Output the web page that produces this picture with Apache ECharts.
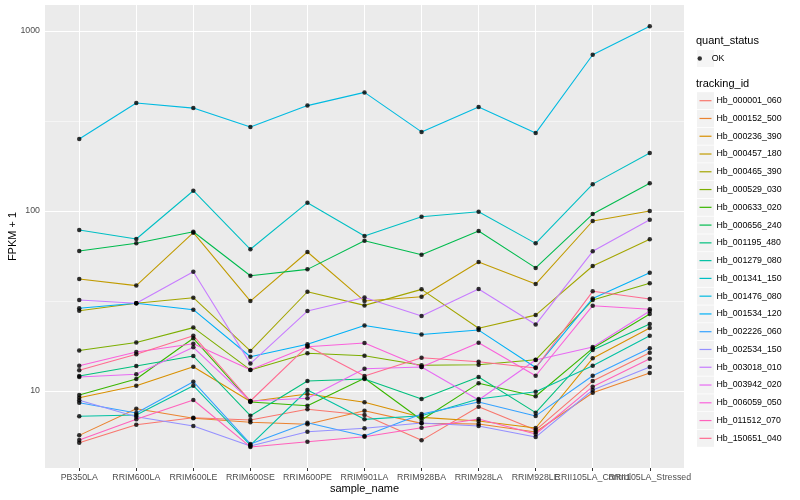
<!DOCTYPE html>
<html><head><meta charset="utf-8">
<script src="https://cdn.jsdelivr.net/npm/echarts@6/dist/echarts.min.js"></script>
<style>html,body{margin:0;padding:0;background:#fff}#c{width:800px;height:500px}</style>
</head><body><div id="c"></div>
<script>
const categories = ['PB350LA','RRIM600LA','RRIM600LE','RRIM600SE','RRIM600PE','RRIM901LA','RRIM928BA','RRIM928LA','RRIM928LE','RRII105LA_Control','RRII105LA_Stressed'];
const trackingIds = ['Hb_000001_060','Hb_000152_500','Hb_000236_390','Hb_000457_180','Hb_000465_390','Hb_000529_030','Hb_000633_020','Hb_000656_240','Hb_001195_480','Hb_001279_080','Hb_001341_150','Hb_001476_080','Hb_001534_120','Hb_002226_060','Hb_002534_150','Hb_003018_010','Hb_003942_020','Hb_006059_050','Hb_011512_070','Hb_150651_040'];
const colors = ['#F8766D','#EA8331','#D89000','#C09B00','#A3A500','#7CAE00','#39B600','#00BB4E','#00BF7D','#00C1A3','#00BFC4','#00BAE0','#00B0F6','#35A2FF','#9590FF','#C77CFF','#E76BF3','#FA62DB','#FF62BC','#FF6C91'];

const hb_000001_060 = [5.16, 6.50, 7.11, 6.90, 7.91, 7.36, 5.32, 8.18, 6.07, 11.36, 16.32];
const hb_000152_500 = [5.67, 7.97, 7.05, 6.70, 6.53, 7.77, 6.61, 6.56, 5.92, 9.78, 12.59];
const hb_000236_390 = [9.18, 10.70, 13.65, 8.74, 9.62, 8.66, 7.14, 6.81, 6.23, 15.19, 22.39];
const hb_000457_180 = [41.9, 38.5, 75.8, 31.6, 59.2, 31.6, 33.4, 52.1, 39.3, 88.0, 100];
const hb_000465_390 = [27.9, 30.7, 33.0, 16.7, 35.6, 29.9, 36.7, 22.3, 26.4, 49.5, 69.6];
const hb_000529_030 = [16.8, 18.6, 22.5, 13.1, 16.2, 15.7, 13.9, 14.0, 14.9, 32.0, 39.7];
const hb_000633_020 = [9.50, 11.66, 19.63, 8.69, 8.29, 11.77, 6.90, 11.03, 9.35, 17.27, 26.78];
const hb_000656_240 = [59.9, 66.2, 76.7, 43.7, 47.4, 68.4, 57.2, 77.4, 48.3, 96.2, 142.5];
const hb_001195_480 = [12.12, 13.76, 15.65, 7.29, 11.36, 11.66, 9.03, 11.96, 7.58, 16.90, 23.56];
const hb_001279_080 = [7.24, 7.36, 10.70, 5.01, 10.13, 6.96, 7.29, 9.03, 9.91, 13.82, 20.29];
const hb_001341_150 = [78.4, 69.9, 129.6, 61.3, 111.2, 72.6, 93.0, 99.1, 66.1, 141, 210];
const hb_001476_080 = [251, 398, 373, 293, 385, 456, 275, 378, 271, 738, 1062];
const hb_001534_120 = [28.8, 30.7, 28.3, 15.5, 18.2, 23.1, 20.6, 21.8, 13.5, 32.7, 45.4];
const hb_002226_060 = [8.61, 7.55, 11.26, 5.08, 6.67, 5.62, 7.45, 8.69, 7.27, 12.16, 17.27];
const hb_002534_150 = [8.88, 7.20, 6.39, 4.95, 5.94, 6.21, 6.64, 6.39, 5.55, 10.13, 13.59];
const hb_003018_010 = [32.0, 30.7, 46.0, 14.2, 27.8, 33.1, 26.1, 36.9, 23.4, 59.7, 89.5];
const hb_003942_020 = [11.96, 12.38, 17.49, 8.80, 9.11, 13.30, 13.59, 8.91, 14.87, 17.56, 27.83];
const hb_006059_050 = [13.82, 16.47, 18.31, 13.13, 17.63, 18.48, 13.59, 18.55, 12.16, 29.78, 28.44];
const hb_011512_070 = [5.34, 6.96, 8.91, 4.89, 5.23, 5.57, 6.25, 6.99, 5.77, 10.57, 15.11];
const hb_150651_040 = [13.03, 15.99, 20.29, 8.80, 17.78, 12.12, 15.31, 14.55, 13.42, 35.80, 32.44];

const seriesValues = [hb_000001_060, hb_000152_500, hb_000236_390, hb_000457_180, hb_000465_390, hb_000529_030, hb_000633_020, hb_000656_240, hb_001195_480, hb_001279_080, hb_001341_150, hb_001476_080, hb_001534_120, hb_002226_060, hb_002534_150, hb_003018_010, hb_003942_020, hb_006059_050, hb_011512_070, hb_150651_040];

const yMajorTicks = [10, 100, 1000];
const yMinorGrid = [31.62, 316.2];
const xTicks = categories.map((c, i) => i);
// labels split over two axes so that the overlapping pair at the right end both show, as in the reference
const xLabelsMain = xTicks.filter(i => i !== 9);
const xLabelsExtra = [9];

const FONT = 'Liberation Sans, Arial, sans-serif';
const chart = echarts.init(document.getElementById('c'), null, {renderer: 'canvas'});

const gridMarks = [];
yMajorTicks.forEach(v => gridMarks.push({yAxis: v, lineStyle: {width: 1.07}}));
yMinorGrid.forEach(v => gridMarks.push({yAxis: v, lineStyle: {width: 0.53}}));
xTicks.forEach(v => gridMarks.push({xAxis: v, lineStyle: {width: 1.07}}));

const lineSeries = trackingIds.map((id, k) => {
  const s = {
    name: id, type: 'line', z: 2, silent: true, animation: false,
    xAxisIndex: 0, yAxisIndex: 0,
    symbol: 'none', showSymbol: false,
    lineStyle: {color: colors[k], width: 1.07},
    itemStyle: {color: colors[k]},
    data: seriesValues[k].map((v, i) => [i, v])
  };
  if (k === 0) {
    s.markLine = {silent: true, z: 1, symbol: ['none', 'none'], label: {show: false}, animation: false,
      lineStyle: {color: '#ffffff', type: 'solid'}, emphasis: {disabled: true}, data: gridMarks};
  }
  return s;
});

const pts = [];
seriesValues.forEach(arr => arr.forEach((v, i) => pts.push([i, v])));

const legendTextBase = {fontFamily: FONT, fontSize: 8.8, lineHeight: 17, color: '#000'};
const xLabelStyle = {color: '#4D4D4D', fontSize: 8.8, fontFamily: FONT, margin: 5, showMinLabel: true, showMaxLabel: true, hideOverlap: false,
  formatter: v => categories[Math.round(v)]};

const option = {
  animation: false,
  backgroundColor: '#ffffff',
  grid: {left: 45, top: 5, width: 639, height: 463, show: true, backgroundColor: '#EBEBEB', borderWidth: 0,
    containLabel: false, outerBoundsMode: 'none'},
  title: [
    {text: 'quant_status', left: 696, top: 34, padding: 0, textStyle: {fontFamily: FONT, fontSize: 11, fontWeight: 'normal', color: '#000', lineHeight: 13}},
    {text: 'tracking_id', left: 696, top: 77.5, padding: 0, textStyle: {fontFamily: FONT, fontSize: 11, fontWeight: 'normal', color: '#000', lineHeight: 13}}
  ],
  xAxis: [
    {
      type: 'value', min: -0.6, max: 10.6, position: 'bottom',
      splitLine: {show: false}, axisLine: {show: false},
      axisTick: {show: true, customValues: xTicks, length: 3, lineStyle: {color: '#333333', width: 1}},
      axisLabel: Object.assign({customValues: xLabelsMain}, xLabelStyle),
      name: 'sample_name', nameLocation: 'middle', nameGap: 15, nameMoveOverlap: false,
      nameTextStyle: {fontFamily: FONT, fontSize: 11, color: '#000'}
    },
    {
      type: 'value', min: -0.6, max: 10.6, position: 'bottom', offset: 0,
      splitLine: {show: false}, axisLine: {show: false}, axisTick: {show: false},
      axisLabel: Object.assign({customValues: xLabelsExtra}, xLabelStyle)
    }
  ],
  yAxis: {
    type: 'log', logBase: 10, min: 3.735, max: 1394.6,
    splitLine: {show: false}, axisLine: {show: false}, minorTick: {show: false},
    axisTick: {show: true, customValues: yMajorTicks, length: 3, lineStyle: {color: '#333333', width: 1}},
    axisLabel: {customValues: yMajorTicks, formatter: v => String(Math.round(v)), color: '#4D4D4D', fontSize: 8.8, fontFamily: FONT, margin: 5,
      showMinLabel: true, showMaxLabel: true},
    name: 'FPKM + 1', nameLocation: 'middle', nameGap: 27, nameRotate: 90, nameMoveOverlap: false,
    nameTextStyle: {fontFamily: FONT, fontSize: 11, color: '#000'}
  },
  legend: [
    {data: ['OK'], orient: 'vertical', left: 697, top: 50, padding: 0, icon: 'rect', itemWidth: 17, itemHeight: 17, selectedMode: false,
     itemStyle: {color: '#F2F2F2', borderWidth: 0}, textStyle: Object.assign({}, legendTextBase, {color: 'rgba(0,0,0,0)'})},
    {data: ['OK'], orient: 'vertical', left: 697.5, top: 50, padding: 0, icon: 'circle', itemWidth: 14, itemHeight: 4.5, selectedMode: false,
     itemStyle: {borderWidth: 0}, textStyle: legendTextBase},
    {data: trackingIds, orient: 'vertical', left: 697, top: 92.2, padding: 0, itemGap: 0.77, icon: 'rect', itemWidth: 17, itemHeight: 17, selectedMode: false,
     itemStyle: {color: '#F2F2F2', borderWidth: 0}, textStyle: Object.assign({}, legendTextBase, {color: 'rgba(0,0,0,0)'})},
    {data: trackingIds, orient: 'vertical', left: 699.5, top: 92.2, padding: 0, itemGap: 0.77, icon: 'rect', itemWidth: 12, itemHeight: 1.2, selectedMode: false,
     itemStyle: {borderWidth: 0}, textStyle: legendTextBase}
  ],
  series: lineSeries.concat([
    {name: 'OK', type: 'scatter', z: 3, silent: true, symbol: 'circle', symbolSize: 4.5,
     xAxisIndex: 0, yAxisIndex: 0,
     itemStyle: {color: '#000000'}, data: pts}
  ])
};
chart.setOption(option);
</script></body></html>
